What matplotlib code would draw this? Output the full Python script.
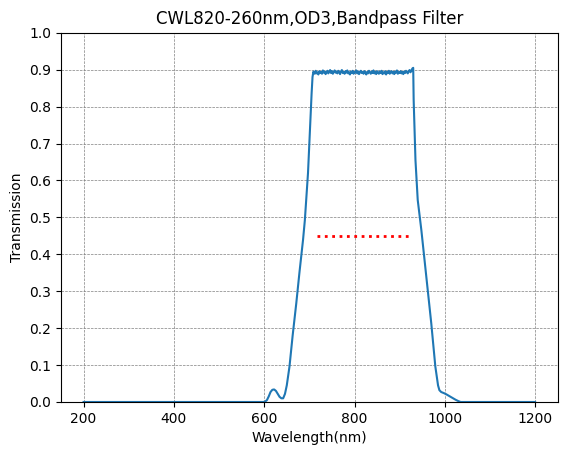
import matplotlib
matplotlib.use('Agg')
from matplotlib import pyplot as plt

# edges of the curve (wavelength nm, transmission)
wl_left = [200, 400, 598, 602, 606, 610, 614, 618, 622, 626, 630, 634, 638, 642, 646, 650,
           656, 663, 671, 678, 686, 690, 693, 697, 700, 703, 705, 707, 709]
tr_left = [0.0, 0.0, 0.0, 0.001, 0.005, 0.015, 0.027, 0.033, 0.034, 0.030, 0.022, 0.014, 0.010, 0.010, 0.022, 0.045,
           0.096, 0.180, 0.267, 0.350, 0.439, 0.492, 0.547, 0.620, 0.700, 0.775, 0.836, 0.880, 0.895]

# flat top, 712..930 nm every 2 nm
wl_top = list(range(712, 931, 2))
tr_top = [0.889, 0.897, 0.890, 0.893, 0.887, 0.896, 0.891, 0.894, 0.889, 0.898,
          0.892, 0.895, 0.888, 0.893, 0.897, 0.890, 0.894, 0.899, 0.891, 0.896,
          0.889, 0.894, 0.898, 0.892, 0.895, 0.890, 0.897, 0.893, 0.888, 0.895,
          0.899, 0.891, 0.894, 0.889, 0.896, 0.892, 0.898, 0.890, 0.893, 0.887,
          0.895, 0.891, 0.897, 0.889, 0.894, 0.892, 0.898, 0.890, 0.895, 0.888,
          0.893, 0.897, 0.891, 0.894, 0.889, 0.896, 0.892, 0.887, 0.894, 0.890,
          0.897, 0.893, 0.889, 0.895, 0.891, 0.898, 0.890, 0.894, 0.888, 0.896,
          0.892, 0.889, 0.895, 0.891, 0.897, 0.888, 0.893, 0.890, 0.896, 0.887,
          0.894, 0.891, 0.897, 0.889, 0.893, 0.896, 0.890, 0.894, 0.888, 0.895,
          0.892, 0.898, 0.889, 0.893, 0.891, 0.896, 0.890, 0.894, 0.888, 0.895,
          0.891, 0.897, 0.893, 0.890, 0.896, 0.899, 0.893, 0.897, 0.903, 0.905]

wl_right = [931, 935, 940, 948, 959, 970, 979, 985, 988, 992, 998, 1003, 1010, 1018, 1024, 1029,
            1035, 1100, 1200]
tr_right = [0.818, 0.655, 0.547, 0.466, 0.339, 0.213, 0.096, 0.045, 0.032, 0.027, 0.024, 0.021, 0.016, 0.010, 0.006, 0.003,
            0.0, 0.0, 0.0]

fwhm_wl = [716, 920]
fwhm_tr = [0.45, 0.45]

wl = wl_left + wl_top + wl_right
tr = tr_left + tr_top + tr_right

fig = plt.figure(figsize=(5.67, 4.55), dpi=100)
ax = fig.add_subplot(111)
ax.plot(wl, tr, color='#1f77b4', linewidth=1.5)
ax.plot(fwhm_wl, fwhm_tr, color='red', linestyle=':', linewidth=2)
ax.set_ylim(0, 1)
ax.set_yticks([i / 10 for i in range(11)])
ax.set_xticks([200, 400, 600, 800, 1000, 1200])
ax.grid(True, color='gray', linestyle='--', linewidth=0.5)
ax.set_xlabel('Wavelength(nm)')
ax.set_ylabel('Transmission')
ax.set_title('CWL820-260nm,OD3,Bandpass Filter')
fig.subplots_adjust(left=0.1076, right=0.9836, bottom=0.1165, top=0.928)
fig.savefig('out.png')
